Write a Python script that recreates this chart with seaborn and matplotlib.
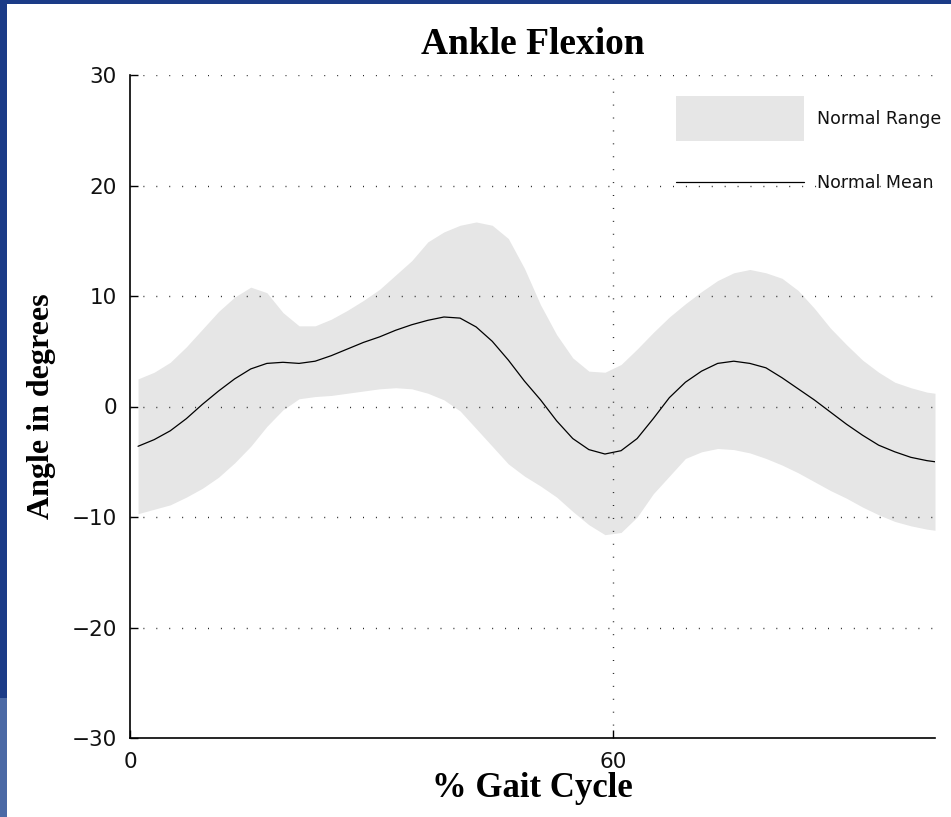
import matplotlib
matplotlib.use("Agg")
import numpy as np
import matplotlib.pyplot as plt
import matplotlib.patches as mpatches
from matplotlib.legend_handler import HandlerLine2D
import seaborn as sns
import pandas as pd

# ---- data ----
gait_pct = [1, 3, 5, 7, 9, 11, 13, 15, 17, 19, 21, 23, 25, 27, 29, 31, 33, 35, 37, 39,
            41, 43, 45, 47, 49, 51, 53, 55, 57, 59, 61, 63, 65, 67, 69, 71, 73, 75, 77, 79,
            81, 83, 85, 87, 89, 91, 93, 95, 97, 99, 100]
normal_mean = [-3.6, -3.0, -2.2, -1.1, 0.2, 1.4, 2.5, 3.4, 3.9, 4.0,
               3.9, 4.1, 4.6, 5.2, 5.8, 6.3, 6.9, 7.4, 7.8, 8.1,
               8.0, 7.2, 5.9, 4.2, 2.3, 0.6, -1.3, -2.9, -3.9, -4.3,
               -4.0, -2.9, -1.1, 0.8, 2.2, 3.2, 3.9, 4.1, 3.9, 3.5,
               2.6, 1.6, 0.6, -0.5, -1.6, -2.6, -3.5, -4.1, -4.6, -4.9, -5.0]
range_upper = [2.5, 3.1, 4.0, 5.4, 7.0, 8.6, 9.9, 10.8, 10.3, 8.5,
               7.3, 7.3, 7.9, 8.7, 9.6, 10.6, 11.9, 13.2, 14.9, 15.8,
               16.4, 16.7, 16.4, 15.2, 12.5, 9.2, 6.5, 4.4, 3.2, 3.1,
               3.8, 5.2, 6.7, 8.1, 9.3, 10.4, 11.4, 12.1, 12.4, 12.1,
               11.6, 10.5, 8.9, 7.1, 5.6, 4.2, 3.1, 2.2, 1.7, 1.3, 1.2]
range_lower = [-9.7, -9.3, -8.9, -8.2, -7.4, -6.4, -5.1, -3.6, -1.8, -0.3,
               0.7, 0.9, 1.0, 1.2, 1.4, 1.6, 1.7, 1.6, 1.2, 0.6,
               -0.4, -2.0, -3.6, -5.2, -6.3, -7.2, -8.2, -9.5, -10.7, -11.6,
               -11.4, -10.0, -7.9, -6.3, -4.7, -4.1, -3.8, -3.9, -4.2, -4.7,
               -5.3, -6.0, -6.8, -7.6, -8.3, -9.1, -9.8, -10.4, -10.8, -11.1, -11.2]
y_ticks = [-30, -20, -10, 0, 10, 20, 30]
x_ticks = [0, 60]

df = pd.DataFrame({"pct": gait_pct, "mean": normal_mean,
                   "upper": range_upper, "lower": range_lower})

sns.set_theme(style="white")
plt.rcParams["font.family"] = ["DejaVu Sans"]

W, H = 951, 817
fig = plt.figure(figsize=(W / 100, H / 100), dpi=100, facecolor="#1b3b87")
# white slide area + lighter blue lower-left strip
fig.patches.append(mpatches.Rectangle((0, 0), 7 / W, 119 / H, transform=fig.transFigure,
                                      facecolor="#4b69a5", edgecolor="none", zorder=-10))
fig.patches.append(mpatches.Rectangle((7 / W, 0), 1 - 7 / W, 1 - 4 / H, transform=fig.transFigure,
                                      facecolor="white", edgecolor="none", zorder=-10))

ax = fig.add_axes([130 / W, (H - 738) / H, 805 / W, 663 / H])
ax.set_zorder(2)
ax.set_facecolor("none")

ax.fill_between(df["pct"], df["lower"], df["upper"], color="#e6e6e6", linewidth=0,
                label="Normal Range", zorder=1)
sns.lineplot(data=df, x="pct", y="mean", ax=ax, color="black", linewidth=0.9,
             label="Normal Mean", zorder=3)

ax.set_xlim(0, 100)
ax.set_ylim(-30, 30)
ax.set_xticks(x_ticks)
ax.set_yticks(y_ticks)
ax.set_yticklabels(["\u221230", "\u221220", "\u221210", "0", "10", "20", "30"])

# dotted grid
for yv in y_ticks[1:]:
    ax.axhline(yv, color="#222222", linewidth=1.0, linestyle=(0, (0.7, 8.6)), zorder=2)
ax.axvline(60, color="#222222", linewidth=1.0, linestyle=(0, (0.7, 8.6)), zorder=2)

for s in ["top", "right"]:
    ax.spines[s].set_visible(False)
for s in ["left", "bottom"]:
    ax.spines[s].set_color("black")
    ax.spines[s].set_linewidth(1.2)
    ax.spines[s].set_zorder(4)

ax.tick_params(axis="both", direction="in", length=6, width=1.0, color="black",
               labelsize=15.5, labelcolor="#111111", left=True, bottom=True)
ax.tick_params(axis="y", pad=9.5)
ax.tick_params(axis="x", pad=10)

serif = ["Liberation Serif", "DejaVu Serif"]
ax.set_title("Ankle Flexion", family=serif, fontweight="bold", fontsize=27,
             color="black", pad=15)
ax.set_xlabel("% Gait Cycle", family=serif, fontweight="bold", fontsize=25,
              color="black", labelpad=0)
ax.set_ylabel("Angle in degrees", family=serif, fontweight="bold", fontsize=23,
              color="black", labelpad=11)


class CenteredLineHandler(HandlerLine2D):
    def create_artists(self, legend, orig_handle, xdescent, ydescent, width, height,
                       fontsize, trans):
        artists = super().create_artists(legend, orig_handle, xdescent, ydescent,
                                         width, height, fontsize, trans)
        for a in artists:
            a.set_ydata(np.asarray(a.get_ydata(), dtype=float) - 5.2)
        return artists


handles, labels = ax.get_legend_handles_labels()
line_handles = [h for h in handles if isinstance(h, matplotlib.lines.Line2D)]
leg = ax.legend(handles, labels, loc="upper left", bbox_to_anchor=(0.678, 0.968),
                frameon=False, fontsize=12.5, handlelength=7.37, handleheight=3.61,
                labelspacing=1.15, handletextpad=0.75, borderpad=0, borderaxespad=0,
                handler_map={h: CenteredLineHandler() for h in line_handles})
for t in leg.get_texts():
    t.set_color("#111111")

fig.savefig("out.png", dpi=100, facecolor=fig.get_facecolor())
